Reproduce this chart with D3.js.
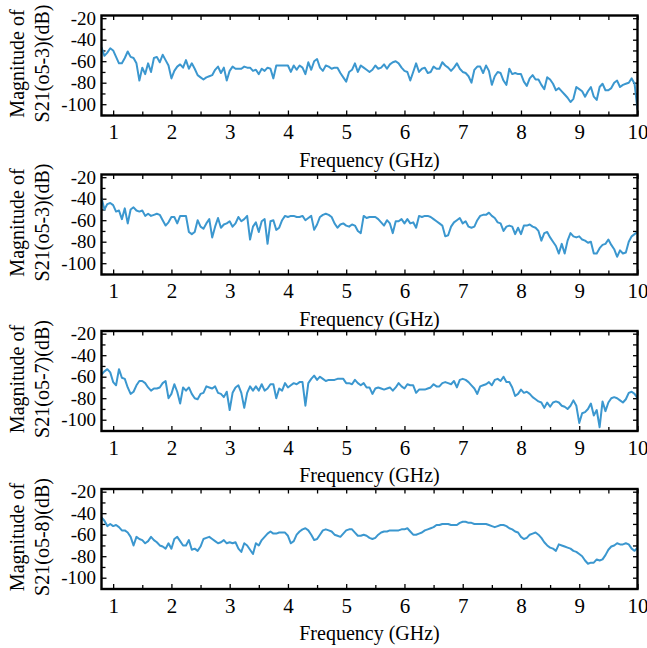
<!DOCTYPE html>
<html>
<head>
<meta charset="utf-8">
<script src="https://cdn.jsdelivr.net/npm/d3@7"></script>
<style>
body { margin: 0; background: #fff; }
svg text { font-family: "Liberation Serif", "Times New Roman", Times, "DejaVu Serif", serif; fill: #000; }
</style>
</head>
<body>
<svg width="647" height="648"></svg>
<script>
// Measured sweep, frequency in GHz.

var freq = [0.8,0.85,0.9,0.95,1,1.05,1.1,1.15,1.2,1.25,1.3,1.35,1.4,1.45,1.5,1.55,1.6,1.65,1.7,1.75,
 1.8,1.85,1.9,1.95,2,2.05,2.1,2.15,2.2,2.25,2.3,2.35,2.4,2.45,2.5,2.55,2.6,2.65,2.7,2.75,
 2.8,2.85,2.9,2.95,3,3.05,3.1,3.15,3.2,3.25,3.3,3.35,3.4,3.45,3.5,3.55,3.6,3.65,3.7,3.75,
 3.8,3.85,3.9,3.95,4,4.05,4.1,4.15,4.2,4.25,4.3,4.35,4.4,4.45,4.5,4.55,4.6,4.65,4.7,4.75,
 4.8,4.85,4.9,4.95,5,5.05,5.1,5.15,5.2,5.25,5.3,5.35,5.4,5.45,5.5,5.55,5.6,5.65,5.7,5.75,
 5.8,5.85,5.9,5.95,6,6.05,6.1,6.15,6.2,6.25,6.3,6.35,6.4,6.45,6.5,6.55,6.6,6.65,6.7,6.75,
 6.8,6.85,6.9,6.95,7,7.05,7.1,7.15,7.2,7.25,7.3,7.35,7.4,7.45,7.5,7.55,7.6,7.65,7.7,7.75,
 7.8,7.85,7.9,7.95,8,8.05,8.1,8.15,8.2,8.25,8.3,8.35,8.4,8.45,8.5,8.55,8.6,8.65,8.7,8.75,
 8.8,8.85,8.9,8.95,9,9.05,9.1,9.15,9.2,9.25,9.3,9.35,9.4,9.45,9.5,9.55,9.6,9.65,9.7,9.75,
 9.8,9.85,9.9,9.95,10];

// S21 magnitude in dB, one array per panel.

var s21A = [-47,-55,-52,-48,-50,-56,-62,-62,-57,-51,-56,-57,-62,-78,-66,-72,-62,-70,-57,-56,
 -61,-54,-59,-64,-76,-69,-65,-63,-66,-59,-67,-62,-67,-73,-75,-77,-75,-74,-73,-68,
 -65,-71,-66,-78,-69,-65,-67,-67,-67,-65,-66,-66,-69,-68,-72,-67,-69,-66,-67,-76,
 -64,-64,-64,-64,-64,-70,-64,-68,-64,-66,-72,-61,-68,-60,-58,-66,-69,-64,-65,-67,
 -66,-66,-71,-75,-79,-70,-68,-62,-70,-64,-66,-68,-70,
 -68,-64,-67,-66,-63,-67,-63,-61,-60,-62,-66,-69,-70,-78,-70,-62,-70,-67,-66,-71,
 -70,-65,-67,-67,-61,-64,-66,-69,-66,-62,-67,-70,-71,-74,-80,-68,-65,-65,-71,-64,
 -69,-82,-74,-70,-71,-78,-82,-67,-72,-71,-72,-72,-79,-83,-76,-73,-77,-77,-82,-86,
 -75,-77,-81,-87,-85,-88,-91,-94,-98,-95,-84,-86,-88,-93,-88,-84,-93,-96,-84,-81,
 -87,-87,-85,-80,-78,-84,-82,-81,-80,-76,-81,-105];

var s21B = [-39,-50,-45,-44,-46,-52,-51,-59,-49,-63,-50,-48,-51,-52,-51,-56,-54,-56,-55,-54,
 -55,-60,-65,-62,-57,-57,-63,-56,-56,-56,-71,-73,-71,-60,-66,-68,-63,-59,-76,-66,
 -58,-67,-64,-63,-61,-66,-63,-57,-61,-59,-56,-78,-66,-62,-71,-61,-59,-82,-61,-60,
 -69,-67,-60,-56,-57,-56,-56,-57,-57,-56,-60,-58,-56,-69,-64,-57,-55,-54,-55,-57,
 -63,-67,-64,-63,-65,-66,-64,-65,-70,-72,-56,-58,-57,
 -57,-57,-59,-62,-65,-60,-63,-72,-61,-61,-59,-63,-59,-63,-62,-67,-56,-57,-56,-56,
 -57,-59,-61,-63,-65,-75,-74,-66,-62,-60,-58,-63,-61,-66,-67,-66,-60,-56,-55,-55,
 -53,-56,-58,-62,-63,-70,-66,-65,-66,-73,-67,-73,-65,-65,-64,-66,-67,-70,-79,-72,
 -71,-76,-80,-84,-91,-82,-91,-79,-72,-75,-76,-75,-78,-79,-81,-80,-91,-91,-86,-83,
 -82,-78,-83,-87,-94,-88,-91,-90,-80,-75,-73,-71];

var s21C = [-58,-55,-53,-56,-65,-68,-53,-61,-62,-70,-76,-74,-68,-64,-64,-66,-70,-73,-71,-71,
 -70,-66,-64,-80,-76,-67,-74,-85,-70,-73,-70,-76,-80,-81,-76,-75,-69,-70,-71,-69,
 -75,-76,-79,-74,-91,-75,-70,-68,-75,-89,-75,-69,-73,-69,-73,-67,-73,-71,-67,-67,
 -80,-71,-73,-66,-70,-68,-66,-67,-65,-65,-87,-66,-62,-59,-63,-60,-62,-64,-63,-63,
 -63,-62,-62,-62,-66,-66,-67,-63,-66,-68,-66,-70,-70,
 -76,-71,-70,-71,-72,-71,-70,-73,-70,-66,-69,-71,-67,-68,-68,-75,-72,-72,-72,-71,
 -70,-67,-69,-69,-66,-65,-66,-67,-64,-70,-63,-62,-63,-65,-68,-71,-76,-69,-68,-67,
 -65,-68,-63,-62,-64,-60,-65,-65,-70,-78,-76,-72,-75,-74,-76,-79,-81,-83,-84,-89,
 -84,-88,-84,-83,-84,-87,-88,-90,-87,-82,-87,-103,-94,-93,-90,-85,-96,-91,-107,-83,
 -92,-84,-80,-79,-80,-82,-84,-81,-75,-74,-76,-80];

var s21D = [-44,-47,-52,-50,-52,-51,-53,-56,-56,-58,-62,-70,-62,-64,-65,-68,-66,-62,-65,-67,
 -70,-71,-73,-68,-73,-64,-62,-66,-70,-70,-65,-74,-73,-75,-71,-64,-63,-62,-64,-66,
 -68,-67,-65,-68,-67,-68,-67,-73,-76,-68,-70,-74,-78,-68,-70,-65,-62,-59,-57,-59,
 -59,-58,-58,-58,-61,-68,-66,-60,-57,-55,-54,-56,-60,-65,-64,-60,-56,-55,-56,-57,
 -60,-61,-62,-59,-56,-55,-55,-58,-61,-61,-60,-61,-63,
 -64,-63,-60,-58,-57,-57,-56,-56,-56,-56,-55,-55,-54,-57,-60,-60,-59,-58,-56,-55,
 -54,-53,-51,-51,-50,-50,-50,-51,-51,-51,-49,-48,-48,-49,-49,-50,-50,-50,-50,-50,
 -51,-52,-53,-52,-51,-51,-52,-54,-55,-57,-58,-62,-64,-63,-60,-59,-58,-60,-63,-67,
 -70,-72,-73,-75,-69,-70,-71,-72,-73,-75,-76,-78,-80,-84,-87,-86,-86,-83,-84,-83,
 -79,-74,-71,-70,-68,-69,-69,-68,-69,-73,-75,-72];

var seriesList = [s21A, s21B, s21C, s21D];
var yTitles = ['S21(o5-3)(dB)', 'S21(o5-3)(dB)', 'S21(o5-7)(dB)', 'S21(o5-8)(dB)'];
var xTicks = [1, 2, 3, 4, 5, 6, 7, 8, 9, 10];
var xMinor = [1.5, 2.5, 3.5, 4.5, 5.5, 6.5, 7.5, 8.5, 9.5];
var yTicks = [-20, -40, -60, -80, -100];
var yMinor = [-30, -50, -70, -90, -110];

// Layout of the four stacked panels.

var svg = d3.select('svg');
var left = 101.5, right = 637.5;
var plotH = 100;
var panelTops = [15.5, 174.5, 331, 489];
var lineColor = '#3b97cf';
var serif = '"Liberation Serif", "Times New Roman", Times, "DejaVu Serif", serif';

var x = d3.scaleLinear().domain([0.8, 10]).range([left, right]);
var y = d3.scaleLinear().domain([-110.5, -17.5]).range([plotH, 0]);

svg.append('defs').append('clipPath').attr('id', 'plotclip')
 .append('rect').attr('x', left).attr('y', 0).attr('width', right - left).attr('height', plotH);

var line = d3.line()
 .x(function(d, i) { return x(freq[i]); })
 .y(function(d) { return y(d); });

// Plain hyphen minus, as in the original figure.
var plainFormat = function(d) { return String(d); };

function styleAxis(g) {
 g.attr('font-family', serif);
 g.select('.domain').remove();
 g.selectAll('.tick line').attr('stroke', '#000').attr('stroke-width', 1.3);
}

seriesList.forEach(function(vals, p) {
 var g = svg.append('g').attr('transform', 'translate(0,' + panelTops[p] + ')');

 // Inward ticks on all four sides.
 g.append('g').attr('transform', 'translate(0,' + plotH + ')')
  .call(d3.axisBottom(x).tickValues(xTicks).tickSize(-5).tickPadding(9).tickFormat(plainFormat))
  .call(styleAxis)
  .attr('font-size', 21);
 g.append('g').attr('transform', 'translate(0,' + plotH + ')')
  .call(d3.axisBottom(x).tickValues(xMinor).tickSize(-4).tickFormat(''))
  .call(styleAxis);
 g.append('g')
  .call(d3.axisTop(x).tickValues(xTicks.concat(xMinor)).tickSize(-4.5).tickFormat(''))
  .call(styleAxis);

 g.append('g').attr('transform', 'translate(' + left + ',0)')
  .call(d3.axisLeft(y).tickValues(yTicks).tickSize(-5).tickPadding(5.5).tickFormat(plainFormat))
  .call(styleAxis)
  .attr('font-size', 19);
 g.append('g').attr('transform', 'translate(' + left + ',0)')
  .call(d3.axisLeft(y).tickValues(yMinor).tickSize(-4).tickFormat(''))
  .call(styleAxis);
 g.append('g').attr('transform', 'translate(' + right + ',0)')
  .call(d3.axisRight(y).tickValues(yTicks.concat(yMinor)).tickSize(-4.5).tickFormat(''))
  .call(styleAxis);

 // The trace.
 g.append('path')
  .datum(vals)
  .attr('clip-path', 'url(#plotclip)')
  .attr('fill', 'none')
  .attr('stroke', lineColor)
  .attr('stroke-width', 2)
  .attr('stroke-linejoin', 'round')
  .attr('d', line);

 // Frame.
 g.append('rect')
  .attr('x', left).attr('y', 0)
  .attr('width', right - left).attr('height', plotH)
  .attr('fill', 'none').attr('stroke', '#000').attr('stroke-width', 2.4);

 // Axis titles.
 g.append('text')
  .attr('x', (left + right) / 2).attr('y', plotH + 51)
  .attr('text-anchor', 'middle').attr('font-size', 20)
  .attr('font-family', serif)
  .text('Frequency (GHz)');

 var yt = g.append('g').attr('transform', 'translate(0,' + (plotH / 2 - 2) + ') rotate(-90)')
  .attr('font-family', serif).attr('font-size', 20).attr('text-anchor', 'middle');
 yt.append('text').attr('x', 0).attr('y', 24).text('Magnitude of');
 yt.append('text').attr('x', 0).attr('y', 49).text(yTitles[p]);
});
</script>
</body>
</html>
